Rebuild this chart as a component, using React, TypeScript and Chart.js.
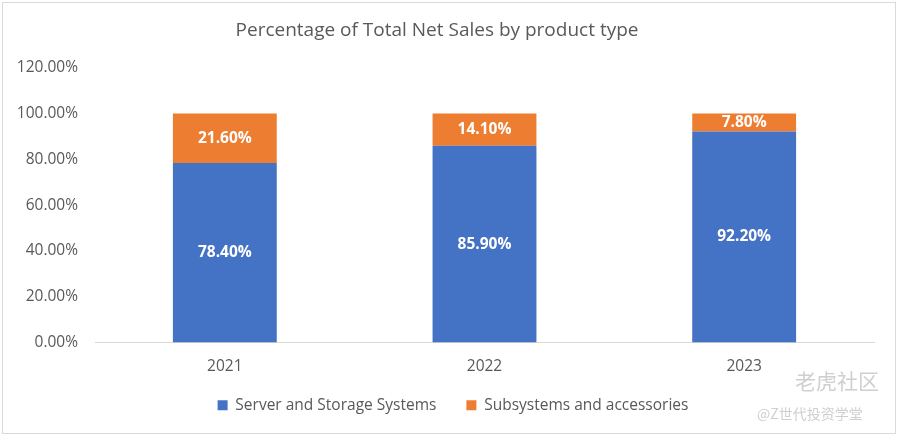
import React, { useEffect, useRef } from "react";
import { Chart, registerables } from "chart.js";

Chart.register(...registerables);

const categories = ["2021", "2022", "2023"];
const serverStorage = [78.4, 85.9, 92.2];
const subsystems = [21.6, 14.1, 7.8];
const seriesNames = ["Server and Storage Systems", "Subsystems and accessories"];
const title = "Percentage of Total Net Sales by product type";

const FONT = "'Open Sans', 'Liberation Sans', sans-serif";

const labelPlugin = {
  id: "segLabels",
  afterDatasetsDraw(chart: any) {
    const ctx = chart.ctx;
    ctx.save();
    ctx.fillStyle = "#ffffff";
    ctx.font = `bold 15.5px ${FONT}`;
    ctx.textAlign = "center";
    ctx.textBaseline = "middle";
    chart.data.datasets.forEach((ds: any, i: number) => {
      const meta = chart.getDatasetMeta(i);
      meta.data.forEach((bar: any, j: number) => {
        const v = ds.data[j];
        const y = (bar.y + bar.base) / 2;
        ctx.fillText(v.toFixed(2) + "%", bar.x, y);
      });
    });
    ctx.restore();
  },
};

const legendShift = {
  id: "legendShift",
  afterLayout(chart: any) {
    const l = chart.legend;
    if (!l) return;
    l.top -= 13;
    l.bottom -= 13;
    l.left += 16;
    l.right += 16;
  },
};

export default function App() {
  const ref = useRef<HTMLCanvasElement>(null);
  useEffect(() => {
    const chart = new Chart(ref.current!, {
      type: "bar",
      data: {
        labels: categories,
        datasets: [
          { label: seriesNames[0], data: serverStorage, backgroundColor: "#4472C4", categoryPercentage: 1, barPercentage: 0.4 },
          { label: seriesNames[1], data: subsystems, backgroundColor: "#ED7D31", categoryPercentage: 1, barPercentage: 0.4 },
        ],
      },
      options: {
        animation: false,
        responsive: false,
        devicePixelRatio: 1,
        layout: { padding: { left: 0, right: 24, top: 0, bottom: 0 } },
        plugins: {
          title: {
            display: true,
            text: title,
            color: "#595959",
            font: { family: FONT, size: 19, weight: "normal" },
            padding: { top: 19, bottom: 26 },
          },
          legend: {
            position: "bottom",
            labels: {
              color: "#595959",
              font: { family: FONT, size: 15.5 },
              boxWidth: 10,
              boxHeight: 10,
              padding: 30,
            },
          },
          tooltip: { enabled: false },
        },
        scales: {
          x: {
            stacked: true,
            grid: { display: false, drawTicks: false },
            border: { display: true, color: "#d9d9d9" },
            ticks: { color: "#595959", font: { family: FONT, size: 15.5 }, padding: 15 },
            afterFit: (s: any) => { s.height = 38; },
          },
          y: {
            stacked: true,
            min: 0,
            max: 120,
            grid: { display: false, drawTicks: false },
            border: { display: false },
            ticks: {
              stepSize: 20,
              color: "#595959",
              font: { family: FONT, size: 15.5 },
              padding: 17,
              callback: (v: any) => Number(v).toFixed(2) + "%",
            },
            afterFit: (s: any) => { s.width = 95; },
          },
        },
      },
      plugins: [labelPlugin, legendShift],
    } as any);
    return () => chart.destroy();
  }, []);
  return (
    <div style={{ position: "absolute", left: 0, top: 0, width: 898, height: 436, background: "#fff" }}>
      <canvas ref={ref} width={898} height={436} style={{ position: "absolute", left: 0, top: 0 }} />
      <div style={{ position: "absolute", left: 2, top: 2, width: 892, height: 430, border: "1px solid #d9d9d9", pointerEvents: "none" }} />
      <div style={{ position: "absolute", left: 795, top: 367, color: "#cfcfcf", fontFamily: "'Noto Sans CJK SC', sans-serif", fontSize: 21, lineHeight: "26px" }}>老虎社区</div>
      <div style={{ position: "absolute", left: 757, top: 404, color: "#cfcfcf", fontFamily: "'Noto Sans CJK SC', sans-serif", fontSize: 14, lineHeight: "18px" }}>@Z世代投资学堂</div>
    </div>
  );
}
